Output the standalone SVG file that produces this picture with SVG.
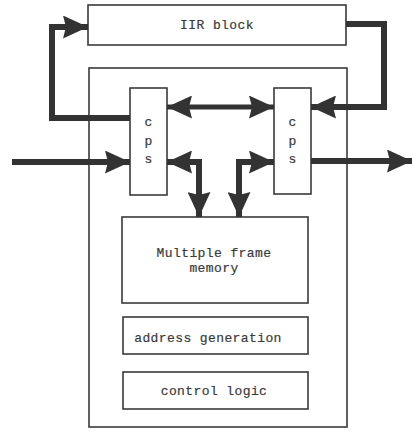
<svg xmlns="http://www.w3.org/2000/svg" width="412" height="437" viewBox="0 0 412 437">
  <style>
    .box { fill: #fff; stroke: #3a3a3a; stroke-width: 1.6; }
    .frame { fill: none; stroke: #3a3a3a; stroke-width: 1.6; }
    .bus { fill: none; stroke: #333; stroke-width: 6; stroke-linejoin: miter; }
    .thin { stroke-width: 5; }
    .lbl { font-family: "Liberation Mono", "DejaVu Sans Mono", monospace; font-size: 13px; letter-spacing: 0.4px; fill: #3a3a3a; stroke: #3a3a3a; stroke-width: 0.2; text-anchor: middle; }
  </style>
  <defs>
    <marker id="head" markerUnits="userSpaceOnUse" markerWidth="25" markerHeight="23" refX="25" refY="11.5" orient="auto-start-reverse">
      <path d="M0,0 L25,11.5 L0,23 L3,11.5 z" fill="#333"/>
    </marker>
  </defs>

  <rect id="board" class="frame" x="89" y="68" width="258" height="359"/>

  <g id="iir">
    <rect class="box" x="88" y="5" width="258" height="40"/>
    <text class="lbl" x="217" y="29">IIR block</text>
  </g>

  <g id="cps-left">
    <rect class="box" x="130" y="88" width="37" height="107"/>
    <text class="lbl" x="148.5" y="126">c</text>
    <text class="lbl" x="148.5" y="145">p</text>
    <text class="lbl" x="148.5" y="163">s</text>
  </g>

  <g id="cps-right">
    <rect class="box" x="274" y="88" width="37" height="106"/>
    <text class="lbl" x="292.5" y="126">c</text>
    <text class="lbl" x="292.5" y="145">p</text>
    <text class="lbl" x="292.5" y="163">s</text>
  </g>

  <g id="memory">
    <rect class="box" x="122" y="217" width="186" height="86"/>
    <text class="lbl" x="214" y="257">Multiple frame</text>
    <text class="lbl" x="214" y="272">memory</text>
  </g>

  <g id="address">
    <rect class="box" x="123" y="317" width="185" height="37"/>
    <text class="lbl" x="208" y="342">address generation</text>
  </g>

  <g id="control">
    <rect class="box" x="123" y="372" width="185" height="37"/>
    <text class="lbl" x="214" y="395">control logic</text>
  </g>

  <g id="connectors">
    <!-- feedback from left cps up into the IIR block -->
    <polyline class="bus" points="130,118 52,118 52,27 88,27" marker-end="url(#head)"/>
    <!-- IIR block output back down into the right cps -->
    <polyline class="bus" points="346,24 384,24 384,107 311,107" marker-end="url(#head)"/>
    <!-- cps to cps link -->
    <line class="bus thin" x1="167" y1="107" x2="274" y2="107" marker-start="url(#head)" marker-end="url(#head)"/>
    <!-- external input and output -->
    <line class="bus" x1="12" y1="162" x2="130" y2="162" marker-end="url(#head)"/>
    <line class="bus" x1="311" y1="161" x2="412" y2="161" marker-end="url(#head)"/>
    <!-- cps to frame memory ports -->
    <polyline class="bus" points="167,162 199,162 199,217" marker-start="url(#head)" marker-end="url(#head)"/>
    <polyline class="bus" points="239,217 239,162 274,162" marker-start="url(#head)" marker-end="url(#head)"/>
  </g>
</svg>
